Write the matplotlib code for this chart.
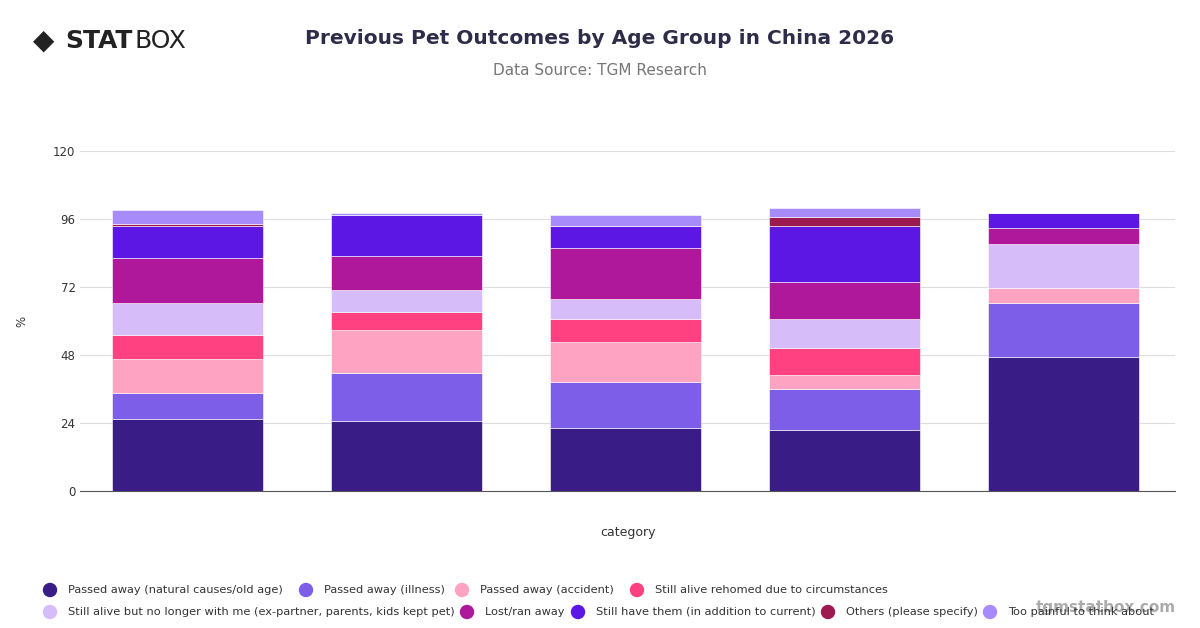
import matplotlib
matplotlib.use("Agg")
import matplotlib.pyplot as plt
import numpy as np

categories = ["18-24", "25-34", "35-44", "45-54", "55+"]
series_names = ["Passed away (natural causes/old age)", "Passed away (illness)", "Passed away (accident)",
                "Still alive rehomed due to circumstances",
                "Still alive but no longer with me (ex-partner, parents, kids kept pet)", "Lost/ran away",
                "Still have them (in addition to current)", "Others (please specify)", "Too painful to think about"]
natural = [25.6, 24.8, 22.4, 21.6, 47.2]
illness = [8.9, 16.8, 16.1, 14.5, 19.3]
accident = [12.0, 15.3, 14.3, 4.8, 5.4]
rehomed = [8.7, 6.3, 8.0, 9.7, 0.0]
no_longer = [11.3, 8.0, 7.2, 10.3, 15.4]
lost = [16.0, 12.0, 17.8, 13.0, 5.5]
still_have = [11.0, 14.3, 7.7, 19.6, 5.6]
others = [0.7, 0.0, 0.0, 3.3, 0.0]
painful = [5.0, 0.9, 4.0, 3.3, 0.0]
series = [natural, illness, accident, rehomed, no_longer, lost, still_have, others, painful]
colors = ["#3a1c86", "#7d5ee8", "#ffa3c2", "#ff4081", "#d6bdfa", "#b0189b", "#5c17e5", "#9c1a4f", "#a78bfa"]

fig = plt.figure(figsize=(12, 6.28), dpi=100)
ax = fig.add_axes([0.067, 0.218, 0.912, 0.541])
x = np.arange(len(categories))
bottom = np.zeros(len(categories))
for vals, c in zip(series, colors):
    ax.bar(x, vals, bottom=bottom, width=0.69, color=c, edgecolor="white", linewidth=0.4, zorder=3)
    bottom += np.array(vals)
ax.set_ylim(0, 120)
ax.set_xlim(-0.49, 4.51)
ax.set_yticks([0, 24, 48, 72, 96, 120])
ax.tick_params(axis="y", length=0, labelsize=8.5, colors="#333333")
ax.set_xticks([])
ax.grid(axis="y", color="#dddddd", linewidth=0.8, zorder=0)
for s in ["top", "right", "left"]:
    ax.spines[s].set_visible(False)
ax.spines["bottom"].set_color("#555555")
ax.set_ylabel("%", fontsize=8.5, color="#333333", labelpad=18)
ax.set_xlabel("category", fontsize=9, color="#333333", labelpad=25)

fig.text(0.5, 0.938, "Previous Pet Outcomes by Age Group in China 2026", ha="center", va="center",
         fontsize=14.5, fontweight="bold", color="#2d2d4a")
fig.text(0.5, 0.887, "Data Source: TGM Research", ha="center", va="center", fontsize=11, color="#777777")
fig.text(0.054, 0.935, "STAT", ha="left", va="center", fontsize=18, fontweight="heavy", color="#222222")
fig.text(0.112, 0.935, "BOX", ha="left", va="center", fontsize=18, color="#222222")
fig.text(0.036, 0.935, "◆", ha="center", va="center", fontsize=20, color="#222222")
fig.text(0.98, 0.033, "tgmstatbox.com", ha="right", va="center", fontsize=11, fontweight="bold", color="#aaaaaa")

row1 = [(50, 0), (306, 1), (462, 2), (637, 3)]
row2 = [(50, 4), (467, 5), (578, 6), (828, 7), (990, 8)]
for yy, row in [(590, row1), (612, row2)]:
    for px, i in row:
        fx, fy = px / 1200, 1 - yy / 628
        fig.patches.append(matplotlib.patches.Ellipse((fx, fy), 13 / 1200, 13 / 628, transform=fig.transFigure,
                                                      color=colors[i]))
        fig.text(fx + 18 / 1200, fy, series_names[i], ha="left", va="center", fontsize=8.2, color="#333333")

fig.savefig("out.png", dpi=100)
